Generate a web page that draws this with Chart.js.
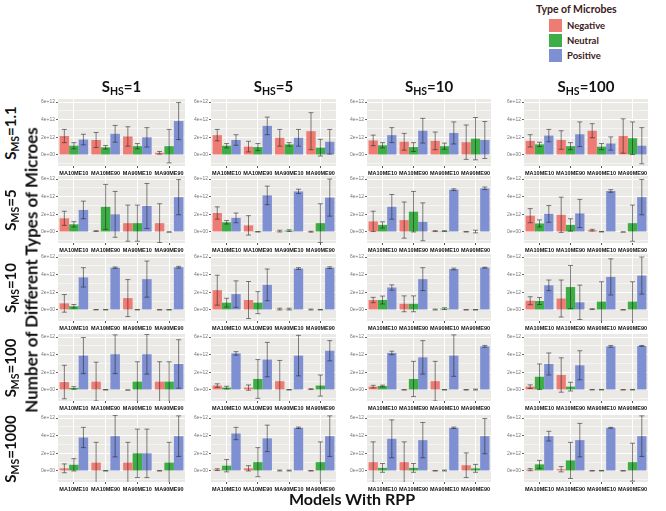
<!DOCTYPE html>
<html>
<head>
<meta charset="utf-8">
<script src="https://cdn.jsdelivr.net/npm/chart.js@4.4.1/dist/chart.umd.min.js"></script>
<style>
body { margin: 0; width: 666px; height: 511px; position: relative; background: #fff; overflow: hidden; font-family: Lato, "Open Sans", sans-serif; }
.txt { position: absolute; white-space: nowrap; color: #111; line-height: 1; }
.txt sub { font-size: 70%; vertical-align: -0.25em; }
.rot { transform: translate(-50%, -50%) rotate(-90deg); }
.ctr { transform: translate(-50%, -50%); }
.sw { position: absolute; width: 13px; height: 13px; }
canvas { position: absolute; }
</style>
</head>
<body>

<script>
// categories and facet labels
const categories = ['MA10ME10', 'MA10ME90', 'MA90ME10', 'MA90ME90'];
const seriesNames = ['Negative', 'Neutral', 'Positive'];
const seriesColors = ['#EE7C74', '#3DAE46', '#7F90D2'];
const shsLabels = ['1', '5', '10', '100'];
const smsLabels = ['1.1', '5', '10', '100', '1000'];
const yTicks = [0, 2, 4, 6];   // in units of 1e12

// means (x 1e12), [row S_MS][col S_HS][category]
const negMean = [
    [[2.15, 1.7, 2.1, 0.25], [2.25, 0.95, 1.95, 2.7], [1.65, 1.5, 1.6, 1.45], [1.6, 1.7, 2.75, 2.15]],
    [[1.55, 0.1, 1.0, 1.0], [2.15, 0.75, 0.1, 0.03], [1.2, 1.35, 0.1, 0.02], [1.85, 1.95, 0.2, 0.0]],
    [[0.75, 0.03, 1.35, 0.02], [2.25, 1.13, 0.1, 0.05], [1.13, 0.7, 0.05, 0.02], [1.05, 1.3, 0.1, 0.02]],
    [[0.9, 0.95, 0.0, 0.95], [0.5, 0.27, 1.0, 0.1], [0.38, 0.02, 1.0, 0.02], [0.38, 1.7, 0.03, 0.02]],
    [[0.3, 0.95, 0.95, 0.02], [0.15, 0.3, 0.05, 0.02], [1.0, 1.0, 0.02, 0.65], [0.15, 0.2, 0.02, 0.02]]
];
const negErr = [
    [[0.75, 0.85, 1.1, 0.15], [0.65, 0.6, 0.95, 2.1], [0.6, 0.95, 1.0, 1.95], [0.7, 1.05, 0.8, 1.95]],
    [[0.8, 0.05, 2.05, 2.2], [0.7, 1.1, 0.1, 0.05], [1.15, 2.05, 0.05, 0.02], [0.8, 2.0, 0.1, 0.0]],
    [[1.0, 0.02, 2.1, 0.02], [1.7, 2.1, 0.1, 0.05], [0.3, 0.9, 0.05, 0.02], [0.45, 2.1, 0.05, 0.02]],
    [[1.9, 2.2, 0.0, 2.25], [0.2, 0.3, 2.35, 0.05], [0.15, 0.02, 2.25, 0.02], [0.2, 1.95, 0.03, 0.02]],
    [[0.5, 2.3, 2.3, 0.02], [0.1, 0.3, 0.05, 0.02], [2.3, 2.3, 0.02, 1.4], [0.12, 0.3, 0.02, 0.02]]
];
const neuMean = [
    [[1.05, 0.87, 1.0, 1.0], [1.05, 0.9, 1.2, 0.83], [1.1, 0.9, 1.0, 1.85], [1.2, 1.0, 0.95, 1.9]],
    [[0.87, 2.85, 1.0, 0.0], [1.1, 0.02, 0.15, 1.0], [0.8, 2.3, 0.1, 0.05], [0.97, 0.8, 0.03, 1.0]],
    [[0.42, 0.03, 0.03, 0.02], [0.83, 0.83, 0.1, 0.03], [1.13, 0.7, 0.15, 0.02], [1.02, 2.6, 0.95, 0.95]],
    [[0.23, 0.02, 0.95, 0.95], [0.27, 1.25, 0.02, 0.5], [0.45, 1.25, 0.02, 0.05], [1.5, 0.38, 0.03, 0.03]],
    [[0.7, 0.02, 2.0, 0.95], [0.6, 1.0, 0.05, 1.0], [0.35, 0.35, 0.05, 0.3], [0.75, 1.2, 0.03, 1.0]]
];
const neuErr = [
    [[0.35, 0.2, 0.3, 1.9], [0.25, 0.4, 0.2, 0.95], [0.3, 0.5, 0.35, 2.4], [0.25, 0.4, 0.35, 1.85]],
    [[0.3, 2.55, 2.05, 0.0], [0.2, 0.02, 0.1, 2.2], [0.35, 2.3, 0.05, 0.15], [0.4, 0.7, 0.03, 2.05]],
    [[0.2, 0.02, 0.02, 0.02], [0.5, 1.25, 0.1, 0.03], [0.45, 0.9, 0.1, 0.02], [0.4, 2.45, 2.25, 2.25]],
    [[0.15, 0.02, 2.25, 2.25], [0.15, 2.2, 0.02, 1.2], [0.1, 2.0, 0.02, 0.05], [1.45, 0.5, 0.03, 0.03]],
    [[0.7, 0.02, 2.75, 2.3], [0.7, 1.65, 0.05, 2.3], [0.5, 0.5, 0.05, 0.45], [0.45, 2.05, 0.03, 2.15]]
];
const posMean = [
    [[1.75, 2.4, 2.0, 3.85], [1.7, 3.3, 1.95, 1.5], [2.25, 2.75, 2.5, 1.7], [2.2, 2.35, 1.3, 1.05]],
    [[2.5, 2.0, 2.95, 3.95], [1.6, 4.15, 4.6, 3.9], [2.85, 1.15, 4.8, 4.95], [2.05, 2.1, 4.65, 3.95]],
    [[3.7, 4.8, 3.5, 4.85], [1.8, 2.85, 4.7, 4.8], [2.55, 3.5, 4.65, 4.8], [2.8, 0.87, 3.75, 3.9]],
    [[3.9, 4.05, 4.05, 2.95], [4.15, 3.45, 3.9, 4.45], [4.2, 3.7, 3.9, 4.95], [2.95, 2.8, 4.95, 5.0]],
    [[3.8, 3.95, 2.0, 3.95], [4.25, 3.7, 4.9, 3.95], [3.65, 3.5, 4.9, 3.95], [3.95, 3.5, 4.9, 3.95]]
];
const posErr = [
    [[0.6, 0.95, 1.1, 2.1], [0.6, 1.0, 0.95, 1.4], [0.85, 1.4, 1.25, 2.1], [0.7, 1.4, 0.75, 2.05]],
    [[1.0, 2.6, 2.55, 2.0], [0.55, 1.05, 0.25, 2.1], [1.4, 2.15, 0.1, 0.15], [0.95, 1.6, 0.15, 2.0]],
    [[1.1, 0.08, 2.05, 0.1], [1.5, 1.8, 0.1, 0.1], [0.3, 1.3, 0.1, 0.05], [0.6, 1.95, 2.05, 2.1]],
    [[2.05, 2.2, 2.25, 2.75], [0.2, 1.95, 2.3, 1.15], [0.2, 1.9, 2.35, 0.1], [1.25, 1.65, 0.1, 0.05]],
    [[1.15, 2.35, 2.75, 2.3], [0.7, 1.5, 0.08, 2.3], [2.15, 2.0, 0.08, 2.0], [0.55, 1.9, 0.05, 2.3]]
];

// placement of the panels
const colLeft = [58, 211, 367, 524];
const colWidth = [127, 125, 124, 124];
const rowTop = [99, 176, 254, 334, 415];
const panelH = 67;
const yAxisW = 26;
const xAxisH = 14;
const padTop = 4;

function fmtTick(v) {
    return v === 0 ? '0e+00' : v + 'e+12';
}

function addText(html, x, y, css, cls) {
    let d = document.createElement('div');
    d.className = 'txt ' + (cls || 'ctr');
    d.innerHTML = html;
    d.style.left = x + 'px';
    d.style.top = y + 'px';
    d.style.cssText += css;
    document.body.appendChild(d);
    return d;
}

//Fond gris des panneaux
const panelBg = {
    id: 'panelBg',
    beforeDraw(chart) {
        const a = chart.chartArea;
        chart.ctx.save();
        chart.ctx.fillStyle = '#EBE9E6';
        chart.ctx.fillRect(a.left, a.top, a.right - a.left, a.bottom - a.top);
        chart.ctx.restore();
    }
};

//Barres d'erreur
const errorBars = {
    id: 'errorBars',
    afterDatasetsDraw(chart) {
        const ctx = chart.ctx;
        const a = chart.chartArea;
        const yScale = chart.scales.y;
        ctx.save();
        ctx.beginPath();
        ctx.rect(a.left, a.top, a.right - a.left, a.bottom - a.top);
        ctx.clip();
        ctx.strokeStyle = 'rgba(35,35,35,0.7)';
        ctx.lineWidth = 0.8;
        chart.data.datasets.forEach(function (ds, i) {
            const meta = chart.getDatasetMeta(i);
            meta.data.forEach(function (bar, j) {
                const m = ds.data[j];
                const e = ds.errs[j];
                const y1 = yScale.getPixelForValue(m + e);
                const y2 = yScale.getPixelForValue(m - e);
                ctx.beginPath();
                ctx.moveTo(bar.x, y1);
                ctx.lineTo(bar.x, y2);
                ctx.moveTo(bar.x - 2.5, y1);
                ctx.lineTo(bar.x + 2.5, y1);
                ctx.moveTo(bar.x - 2.5, y2);
                ctx.lineTo(bar.x + 2.5, y2);
                ctx.stroke();
            });
        });
        ctx.restore();
    }
};

const means = [negMean, neuMean, posMean];
const errs = [negErr, neuErr, posErr];

//Création des 20 panneaux
for (let r = 0; r < smsLabels.length; r++) {
    for (let c = 0; c < shsLabels.length; c++) {
        let canvas = document.createElement('canvas');
        let w = colWidth[c] + yAxisW + 2;
        let h = panelH + padTop + xAxisH;
        canvas.width = w;
        canvas.height = h;
        canvas.style.left = (colLeft[c] - yAxisW) + 'px';
        canvas.style.top = (rowTop[r] - padTop) + 'px';
        canvas.style.width = w + 'px';
        canvas.style.height = h + 'px';
        document.body.appendChild(canvas);

        let datasets = [];
        for (let s = 0; s < 3; s++) {
            datasets.push({
                label: seriesNames[s],
                data: means[s][r][c],
                errs: errs[s][r][c],
                backgroundColor: seriesColors[s],
                borderWidth: 0,
                categoryPercentage: 0.9,
                barPercentage: 1.0
            });
        }

        new Chart(canvas.getContext('2d'), {
            type: 'bar',
            data: { labels: categories, datasets: datasets },
            options: {
                responsive: false,
                animation: false,
                devicePixelRatio: 1,
                layout: { padding: { top: padTop, right: 2, left: 0, bottom: 0 } },
                plugins: { legend: { display: false }, tooltip: { enabled: false } },
                scales: {
                    x: {
                        offset: true,
                        border: { display: false },
                        grid: { offset: false, color: '#ffffff', lineWidth: 1, tickLength: 2, tickColor: '#555' },
                        ticks: {
                            autoSkip: false, maxRotation: 0, minRotation: 0, padding: 2,
                            color: '#111', font: { family: 'Liberation Sans', size: 5.5, weight: 'bold' }
                        },
                        afterFit: function (scale) {
                            scale.height = xAxisH;
                            scale.paddingLeft = 0;
                            scale.paddingRight = 0;
                        }
                    },
                    y: {
                        min: -1.25,
                        max: 6.35,
                        border: { display: false },
                        afterBuildTicks: function (scale) {
                            let t = [];
                            for (let v = -1; v <= 6; v++) t.push({ value: v });
                            scale.ticks = t;
                        },
                        grid: {
                            color: '#ffffff',
                            lineWidth: function (ctx) { return ctx.tick && ctx.tick.value % 2 === 0 ? 1 : 0.5; },
                            tickLength: 2,
                            tickColor: function (ctx) {
                                return ctx.tick && yTicks.indexOf(ctx.tick.value) >= 0 ? '#666' : 'rgba(0,0,0,0)';
                            }
                        },
                        ticks: {
                            padding: 1,
                            color: '#777',
                            font: { family: 'Liberation Sans', size: 5 },
                            callback: function (v) { return yTicks.indexOf(v) >= 0 ? fmtTick(v) : ''; }
                        },
                        afterFit: function (scale) {
                            scale.width = yAxisW;
                            scale.paddingTop = 0;
                            scale.paddingBottom = 0;
                        }
                    }
                }
            },
            plugins: [panelBg, errorBars]
        });
    }
}

//Titres des colonnes et des lignes
for (let c = 0; c < shsLabels.length; c++) {
    addText('S<sub>HS</sub>=' + shsLabels[c], colLeft[c] + colWidth[c] / 2, 88, 'font-size:15px;font-weight:700;');
}
for (let r = 0; r < smsLabels.length; r++) {
    addText('S<sub>MS</sub>=' + smsLabels[r], 12, rowTop[r] + panelH / 2, 'font-size:15px;font-weight:700;', 'rot');
}

//Titres des axes
addText('Number of Different Types of Microes', 31, 270, 'font-size:17px;font-weight:700;', 'rot');
addText('Models With RPP', 352, 499, 'font-size:16px;font-weight:700;');

//Légende
addText('Type of Microbes', 536, 4, 'font-size:10.5px;font-weight:700;color:#3a2020;', 'x');
for (let s = 0; s < 3; s++) {
    let sw = document.createElement('div');
    sw.className = 'sw';
    sw.style.left = '549px';
    sw.style.top = (19 + s * 15) + 'px';
    sw.style.background = seriesColors[s];
    document.body.appendChild(sw);
    addText(seriesNames[s], 567, 21 + s * 15, 'font-size:9.5px;font-weight:700;color:#3a2020;', 'x');
}
</script>
</body>
</html>
